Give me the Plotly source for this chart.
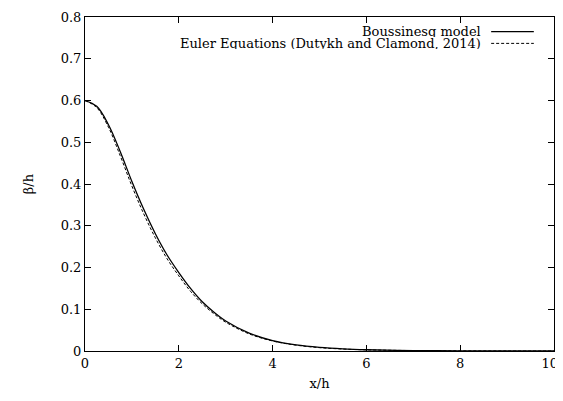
import plotly.graph_objects as go

# values
x_h = [0, 0.25, 0.5, 0.75, 1.0, 1.25, 1.5, 1.75, 2.0, 2.25, 2.5, 2.75, 3.0,
       3.5, 4.0, 4.5, 5.0, 5.5, 6.0, 7.0, 8.0, 9.0, 10.0]
boussinesq = [0.600, 0.586, 0.542, 0.478, 0.406, 0.340, 0.281, 0.230, 0.188,
              0.150, 0.118, 0.093, 0.072, 0.043, 0.025, 0.0145, 0.0085,
              0.005, 0.003, 0.001, 0.0004, 0.0001, 0.0]
euler = [0.600, 0.583, 0.536, 0.468, 0.395, 0.329, 0.271, 0.221, 0.180,
         0.143, 0.113, 0.089, 0.069, 0.041, 0.024, 0.014, 0.008,
         0.0047, 0.0028, 0.001, 0.0003, 0.0001, 0.0]

x_ticks = [0, 2, 4, 6, 8, 10]
# the last label is padded so it is not clipped at the page edge
x_tick_labels = ["0", "2", "4", "6", "8", "10\u00a0\u00a0"]
y_ticks = [0, 0.1, 0.2, 0.3, 0.4, 0.5, 0.6, 0.7, 0.8]
y_tick_labels = ["0", "0.1", "0.2", "0.3", "0.4", "0.5", "0.6", "0.7", "0.8"]

FONT = "DejaVu Serif"
FS = 13

fig = go.Figure()
fig.add_trace(go.Scatter(x=x_h, y=boussinesq, mode="lines",
                         name="Boussinesq model",
                         line=dict(color="black", width=1.3, shape="spline")))
fig.add_trace(go.Scatter(x=x_h, y=euler, mode="lines",
                         name="Euler Equations (Dutykh and Clamond, 2014)",
                         line=dict(color="black", width=1, dash="3px,2px",
                                   shape="spline")))

axis_common = dict(showgrid=False, zeroline=False, showline=True,
                   linecolor="black", linewidth=1, mirror="ticks",
                   ticks="inside", ticklen=6, tickcolor="black",
                   automargin=False, ticklabeloverflow="allow",
                   tickfont=dict(family=FONT, size=FS, color="black"))

fig.update_xaxes(range=[0, 10], tickvals=x_ticks, ticktext=x_tick_labels,
                 title=dict(text="x/h", font=dict(family=FONT, size=FS, color="black"),
                            standoff=9),
                 **axis_common)
fig.update_yaxes(range=[0, 0.8], tickvals=y_ticks, ticktext=y_tick_labels,
                 title=dict(text="β/h", font=dict(family=FONT, size=FS, color="black"),
                            standoff=24),
                 **axis_common)

# gnuplot-style key: text on the left, line sample on the right
key_rows = [("Boussinesq model", 0.956, "solid", 1.3),
            ("Euler Equations (Dutykh and Clamond, 2014)", 0.921, "3px,2px", 1)]
for label, yk, dash, w in key_rows:
    fig.add_annotation(x=0.849, y=yk, xref="paper", yref="paper", text=label,
                       showarrow=False, xanchor="right", yanchor="middle",
                       height=11, valign="middle",
                       font=dict(family=FONT, size=FS, color="black"))
    fig.add_shape(type="line", xref="paper", yref="paper",
                  x0=0.866, x1=0.957, y0=yk, y1=yk,
                  line=dict(color="black", width=w, dash=dash))

# page body has an 8px margin, so the figure is shifted by that much
fig.update_layout(
    width=555, height=393,
    margin=dict(l=77, r=9, t=9, b=50),
    paper_bgcolor="white", plot_bgcolor="white",
    showlegend=False,
    font=dict(family=FONT, size=FS, color="black"),
)

fig.write_html("out.html")
